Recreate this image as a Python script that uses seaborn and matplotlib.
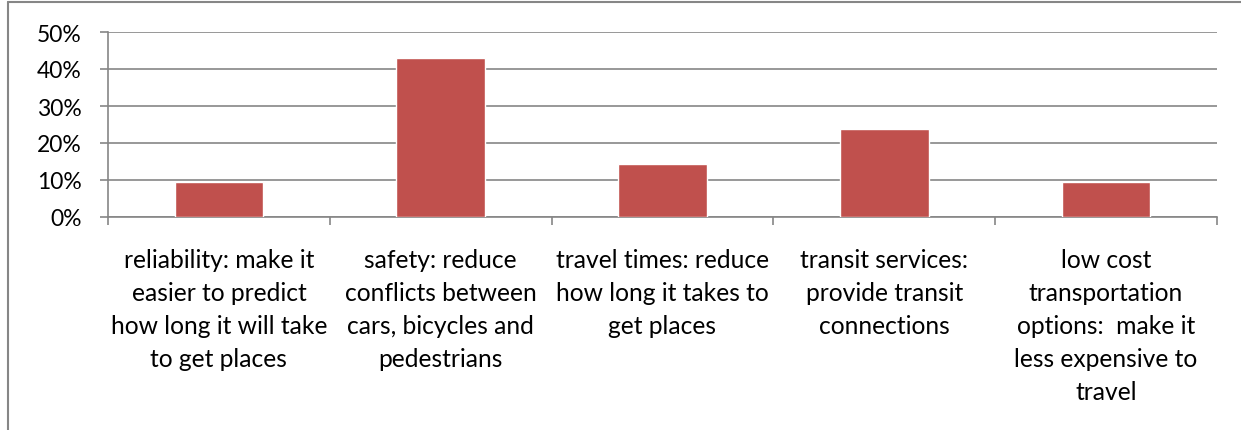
import matplotlib
matplotlib.use("Agg")
import matplotlib.pyplot as plt
import seaborn as sns
import pandas as pd
from matplotlib.lines import Line2D
from matplotlib.ticker import PercentFormatter

categories = [
    "reliability: make it\neasier to predict\nhow long it will take\nto get places",
    "safety: reduce\nconflicts between\ncars, bicycles and\npedestrians",
    "travel times: reduce\nhow long it takes to\nget places",
    "transit services:\nprovide transit\nconnections",
    "low cost\ntransportation\noptions:  make it\nless expensive to\ntravel",
]
values = [0.0952, 0.4286, 0.1429, 0.2381, 0.0952]
yticks = [0.0, 0.1, 0.2, 0.3, 0.4, 0.5]

sns.set_theme(style="white")
plt.rcParams['font.family'] = ['Lato', 'DejaVu Sans']

df = pd.DataFrame({"category": categories, "value": values})

fig = plt.figure(figsize=(12.41, 4.31), dpi=100)
ax = fig.add_axes([108/1241, 1-218/431, (1217-108)/1241, (218-33)/431])

grid_c = "#868686"
sns.barplot(data=df, x="category", y="value", color="#C0504D", width=0.4,
            saturation=1, ax=ax, zorder=3)

ax.set_ylim(0, 0.5)
ax.set_xlim(-0.5, len(categories) - 0.5)
ax.set_yticks(yticks)
ax.yaxis.set_major_formatter(PercentFormatter(1.0, decimals=0))
ax.grid(axis="y", color=grid_c, linewidth=1.2, zorder=0)
ax.set_axisbelow(True)
ax.set_xlabel("")
ax.set_ylabel("")

for s in ["top", "right"]:
    ax.spines[s].set_visible(False)
for s in ["left", "bottom"]:
    ax.spines[s].set_color(grid_c)
    ax.spines[s].set_linewidth(1.2)

# category boundary ticks on x
ax.set_xticks([i - 0.5 for i in range(len(categories) + 1)], minor=True)
ax.tick_params(axis="x", which="minor", length=6, width=1.2, color=grid_c, direction="out", bottom=True)
ax.tick_params(axis="x", which="major", length=0, pad=22.5, labelsize=17.7)
ax.tick_params(axis="y", which="major", length=6, width=1.2, color=grid_c, direction="out", left=True, labelsize=16.5, pad=13)
ax.set_xticklabels(categories, linespacing=1.52)
for lbl in ax.get_xticklabels():
    lbl.set_verticalalignment("top")
    lbl.set_color("black")
for lbl in ax.get_yticklabels():
    lbl.set_color("black")

# outer chart border
fig.add_artist(Line2D([8/1241, 1.0], [1-3/431, 1-3/431], transform=fig.transFigure, color=grid_c, linewidth=1.5))
fig.add_artist(Line2D([8/1241, 8/1241], [0.0, 1-3/431], transform=fig.transFigure, color=grid_c, linewidth=1.5))

fig.savefig("out.png", dpi=100)
